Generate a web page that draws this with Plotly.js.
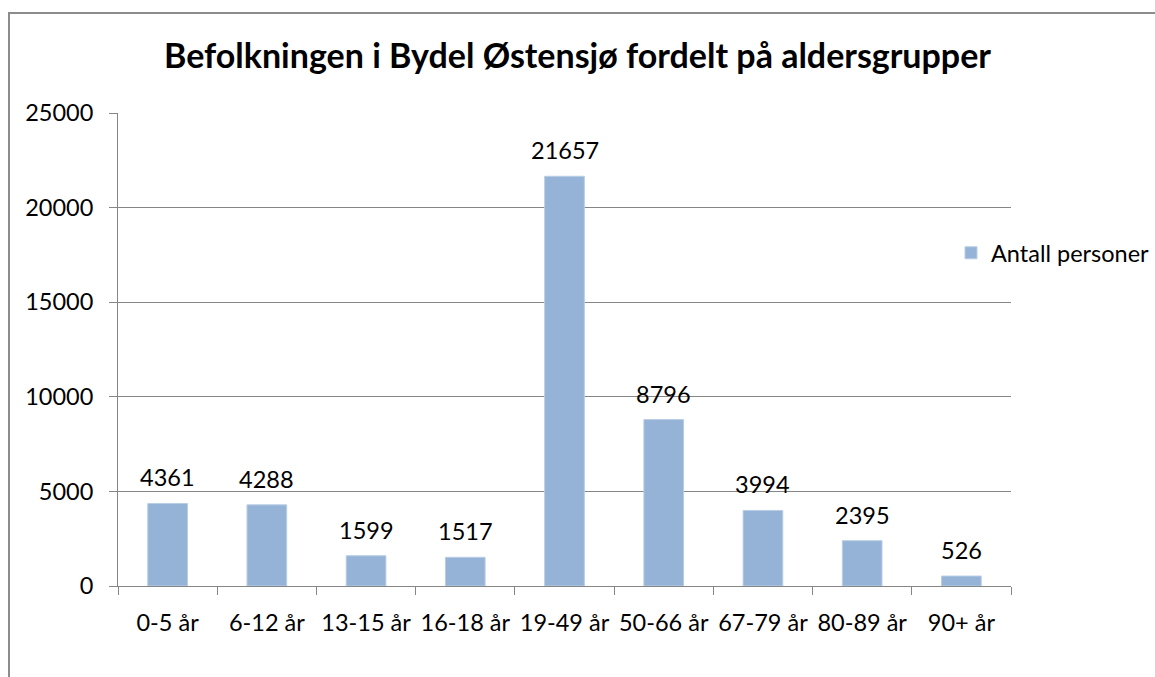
<!DOCTYPE html>
<html>
<head>
<meta charset="utf-8">
<script src="https://cdn.plot.ly/plotly-3.0.1.min.js"></script>
<style>
html,body{margin:0;padding:0;background:#fff;}
#chart{width:1155px;height:677px;}
</style>
</head>
<body>
<div id="chart"></div>
<script>
const categories = ["0-5 år","6-12 år","13-15 år","16-18 år","19-49 år","50-66 år","67-79 år","80-89 år","90+ år"];
const antallPersoner = [4361, 4288, 1599, 1517, 21657, 8796, 3994, 2395, 526];
const yTicks = [0, 5000, 10000, 15000, 20000, 25000];
const seriesName = "Antall personer";
const titleText = "Befolkningen i Bydel Østensjø fordelt på aldersgrupper";

const FONT = "Lato, 'Open Sans', sans-serif";
const FS = 23.5;
const gridCol = "#868686";

const L = 118, R = 1155 - 1011, T = 113, B = 677 - 586;
const pw = 1155 - L - R, ph = 677 - T - B;
const px = v => (v - L) / pw;
const py = v => (677 - B - v) / ph;

const trace = {
  type: "bar",
  x: categories,
  y: antallPersoner,
  name: seriesName,
  marker: {color: "#95b3d7", line: {color: "#b9cde5", width: 1}},
  hoverinfo: "x+y"
};

const annotations = categories.map((c, i) => ({
  x: c, y: antallPersoner[i], xref: "x", yref: "y",
  text: String(antallPersoner[i]), showarrow: false,
  yanchor: "bottom", yshift: 10,
  font: {family: FONT, size: FS, color: "#000"}
}));

const layout = {
  width: 1155, height: 677,
  margin: {l: L, r: R, t: T, b: B, pad: 0, autoexpand: false},
  paper_bgcolor: "#fff", plot_bgcolor: "#fff",
  font: {family: FONT, size: FS, color: "#000"},
  title: {text: "<b>" + titleText + "</b>", x: 0.5, xref: "container", xanchor: "center",
          y: 60, yref: "container", yanchor: "middle",
          font: {family: FONT, size: 34, color: "#000"}},
  bargap: 0.6,
  showlegend: true,
  legend: {x: px(951), y: py(253), xanchor: "left", yanchor: "middle",
           font: {family: FONT, size: FS, color: "#000"}, bgcolor: "rgba(0,0,0,0)",
           itemwidth: 30},
  xaxis: {
    type: "category",
    showline: true, linecolor: gridCol, linewidth: 1,
    ticks: "outside", ticklen: 8, tickcolor: gridCol, tickson: "boundaries",
    showgrid: false, zeroline: false,
    tickfont: {family: FONT, size: FS, color: "#000"},
    ticklabelstandoff: 16,
    fixedrange: true
  },
  yaxis: {
    range: [0, 25000],
    tickvals: yTicks, ticktext: yTicks.map(String),
    showline: true, linecolor: gridCol, linewidth: 1,
    ticks: "outside", ticklen: 8, tickcolor: gridCol,
    showgrid: true, gridcolor: gridCol, gridwidth: 1,
    zeroline: false,
    tickfont: {family: FONT, size: FS, color: "#000"},
    ticklabelstandoff: 11,
    fixedrange: true
  },
  annotations: annotations,
  shapes: [{
    type: "rect", xref: "paper", yref: "paper",
    x0: px(9), x1: px(1170), y0: py(700), y1: py(13),
    line: {color: "#8c8c8c", width: 2}, fillcolor: "rgba(0,0,0,0)", layer: "below"
  }]
};

Plotly.newPlot("chart", [trace], layout, {displayModeBar: false, staticPlot: true});
</script>
</body>
</html>
